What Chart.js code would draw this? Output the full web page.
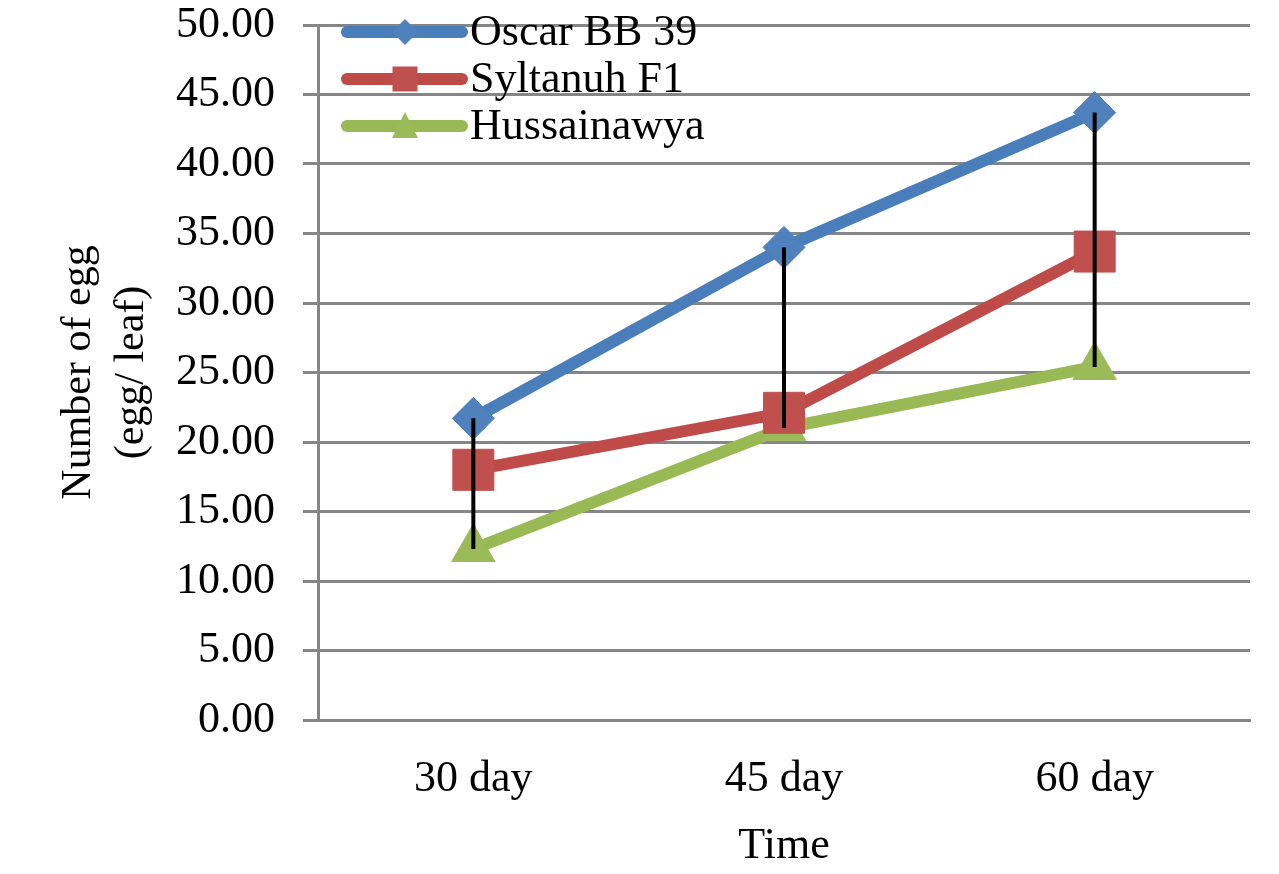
<!DOCTYPE html>
<html>
<head>
<meta charset="utf-8">
<script src="https://cdn.jsdelivr.net/npm/chart.js@4/dist/chart.umd.min.js"></script>
<style>
  body { margin: 0; background: #fff; }
  #wrap { width: 1279px; height: 874px; }
</style>
</head>
<body>
<div id="wrap"><canvas id="myChart" width="1279" height="874"></canvas></div>
<script>
// Egg counts per leaf
const categories = ["30 day", "45 day", "60 day"];
const seriesNames = ["Oscar BB 39", "Syltanuh F1", "Hussainawya"];
const oscar = [21.7, 34.0, 43.7];
const syltanuh = [18.0, 22.1, 33.7];
const hussainawya = [12.3, 21.0, 25.4];
const yTicks = [0, 5, 10, 15, 20, 25, 30, 35, 40, 45, 50];

const lineColors = ["#4a7ebb", "#be4b48", "#98b954"];
const markColors = ["#4f81bd", "#c0504d", "#9bbb59"];
const markStyles = ["rectRot", "rect", "triangle"];
const markSizes = [21, 29, 25];
const gridGray = "#868686";

Chart.defaults.font.family = "'Liberation Serif', serif";
Chart.defaults.font.size = 44;
Chart.defaults.color = "#000";

// black high-low line at each category
const highLow = {
  id: "highLow",
  afterDatasetsDraw(chart) {
    const { ctx, scales } = chart;
    const sets = chart.data.datasets;
    ctx.save();
    ctx.strokeStyle = "#000";
    ctx.lineWidth = 4;
    categories.forEach((c, i) => {
      const vals = sets.map((d) => d.data[i]);
      const x = scales.x.getPixelForValue(i);
      ctx.beginPath();
      ctx.moveTo(x, scales.y.getPixelForValue(Math.max(...vals)));
      ctx.lineTo(x, scales.y.getPixelForValue(Math.min(...vals)));
      ctx.stroke();
    });
    ctx.restore();
  },
};

// legend inside the plot, line with marker
const innerLegend = {
  id: "innerLegend",
  afterDraw(chart) {
    const { ctx } = chart;
    const x0 = 347, x1 = 462, mx = 405, tx = 470;
    ctx.save();
    chart.data.datasets.forEach((d, i) => {
      const y = 32 + i * 47;
      ctx.strokeStyle = lineColors[i];
      ctx.lineWidth = 12;
      ctx.lineCap = "round";
      ctx.beginPath();
      ctx.moveTo(x0, y);
      ctx.lineTo(x1, y);
      ctx.stroke();
      ctx.fillStyle = markColors[i];
      ctx.beginPath();
      if (markStyles[i] === "rectRot") {
        ctx.moveTo(mx - 13, y);
        ctx.lineTo(mx, y - 13);
        ctx.lineTo(mx + 13, y);
        ctx.lineTo(mx, y + 13);
      } else if (markStyles[i] === "rect") {
        ctx.rect(mx - 12.5, y - 12.5, 25, 25);
      } else {
        ctx.moveTo(mx, y - 14);
        ctx.lineTo(mx + 13, y + 12);
        ctx.lineTo(mx - 13, y + 12);
      }
      ctx.closePath();
      ctx.fill();
      ctx.fillStyle = "#000";
      ctx.font = "44px 'Liberation Serif', serif";
      ctx.textBaseline = "middle";
      ctx.fillText(d.label, tx, y + 1);
    });
    ctx.restore();
  },
};

const allSeries = [oscar, syltanuh, hussainawya];

new Chart(document.getElementById("myChart"), {
  type: "line",
  data: {
    labels: categories,
    datasets: allSeries.map((vals, i) => ({
      label: seriesNames[i],
      data: vals,
      borderColor: lineColors[i],
      borderWidth: 12,
      backgroundColor: markColors[i],
      pointStyle: markStyles[i],
      pointRadius: markSizes[i],
      pointBackgroundColor: markColors[i],
      pointBorderColor: markColors[i],
      pointBorderWidth: 1,
      tension: 0,
    })),
  },
  options: {
    responsive: false,
    animation: false,
    devicePixelRatio: 1,
    layout: { autoPadding: false, padding: { top: 25, right: 29, left: 0, bottom: 0 } },
    plugins: {
      legend: { display: false },
      tooltip: { enabled: false },
    },
    scales: {
      x: {
        offset: true,
        grid: { display: false },
        border: { display: true, color: gridGray, width: 3 },
        ticks: { padding: 25 },
        title: {
          display: true,
          text: "Time",
          padding: { top: 0, bottom: 1 },
        },
        afterFit(scale) {
          scale.height = 154;
          scale.paddingLeft = 0;
          scale.paddingRight = 0;
        },
      },
      y: {
        min: 0,
        max: 50,
        afterBuildTicks(scale) {
          scale.ticks = yTicks.map((v) => ({ value: v }));
        },
        grid: { color: gridGray, lineWidth: 3, tickLength: 15 },
        border: { display: true, color: gridGray, width: 3 },
        ticks: {
          padding: 28,
          font: { lineHeight: 1.1 },
          callback: (v) => Number(v).toFixed(2),
        },
        title: {
          display: true,
          text: ["Number of egg", "(egg/ leaf)"],
          font: { size: 42, lineHeight: 1.26 },
          padding: { top: 53, bottom: 0 },
        },
        afterFit(scale) {
          scale.width = 318;
          scale.paddingTop = 0;
          scale.paddingBottom = 0;
        },
      },
    },
  },
  plugins: [highLow, innerLegend],
});
</script>
</body>
</html>
